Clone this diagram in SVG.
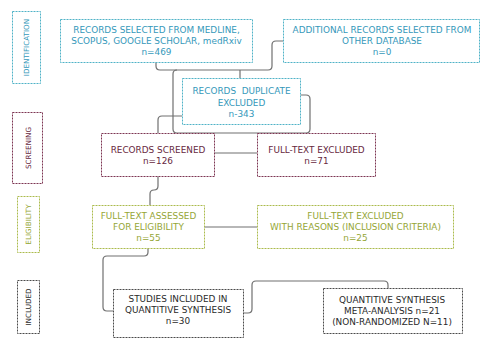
<svg xmlns="http://www.w3.org/2000/svg" width="481" height="338" viewBox="0 0 481 338">
<style>
.bx{fill:#fff;stroke-width:1;stroke-dasharray:2 1}
.t{font-family:"DejaVu Sans","Open Sans",sans-serif;font-size:8.9px;text-anchor:middle}
.lb{font-family:"DejaVu Sans","Open Sans",sans-serif;font-size:7.2px;text-anchor:middle}
.teal{stroke:#4fb2c7}.tealt{fill:#3598ba}
.mar{stroke:#7d3552}.mart{fill:#672840}
.grn{stroke:#abbb4c}.grnt{fill:#95a636}
.blk{stroke:#4a4a4a}.blkt{fill:#2a2a2a}
.c{fill:none;stroke:#707070;stroke-width:1.2}
</style>
<rect width="481" height="338" fill="#fff"/>
<g id="connectors">
<path class="c" d="M156,62 V66 Q156,70 160,70 H268 Q272,70 272,66 V45 Q272,41 276,41 H283"/>
<path class="c" d="M177,70 Q173,70 173,74 V129 Q173,133 177,133 H306 Q310,133 310,129 V99 Q310,95 306,95 H300"/>
<path class="c" d="M240,70 V78"/>
<path class="c" d="M182,116 H162 Q158,116 158,120 V133"/>
<path class="c" d="M214,153 H257"/>
<path class="c" d="M158,176 V186 Q158,190 154,190 Q150,190 150,194 V205"/>
<path class="c" d="M204,227 H257"/>
<path class="c" d="M148,248 V252 Q148,256 144,256 H107 Q103,256 103,260 V307 Q103,311 107,311 H113"/>
<path class="c" d="M243,313 H248 Q252,313 252,309 V285 Q252,281 256,281 H384 Q388,281 388,285 V288"/>
</g>
<g id="label-identification">
<rect class="bx teal" x="12.5" y="11.5" width="28" height="72"/>
<text class="lb tealt" transform="translate(29,47.5) rotate(-90)">IDENTIFICATION</text>
</g>
<g id="label-screening">
<rect class="bx mar" x="12.5" y="112.5" width="30" height="71"/>
<text class="lb mart" transform="translate(30.5,148) rotate(-90)">SCREENING</text>
</g>
<g id="label-eligibility">
<rect class="bx grn" x="17.5" y="196.5" width="22" height="56"/>
<text class="lb grnt" transform="translate(31,224.5) rotate(-90)">ELIGIBILITY</text>
</g>
<g id="label-included">
<rect class="bx blk" x="17.5" y="280.5" width="22" height="53"/>
<text class="lb blkt" transform="translate(31,307) rotate(-90)">INCLUDED</text>
</g>
<g id="records-selected">
<rect class="bx teal" x="60.5" y="19.5" width="192" height="43"/>
<text class="t tealt" x="156.5" y="33">RECORDS SELECTED FROM MEDLINE,</text>
<text class="t tealt" x="156.5" y="44">SCOPUS, GOOGLE SCHOLAR, medRxiv</text>
<text class="t tealt" x="156.5" y="55">n=469</text>
</g>
<g id="additional-records">
<rect class="bx teal" x="283.5" y="19.5" width="196" height="43"/>
<text class="t tealt" x="382" y="33">ADDITIONAL RECORDS SELECTED FROM</text>
<text class="t tealt" x="382" y="44">OTHER DATABASE</text>
<text class="t tealt" x="382" y="55">n=0</text>
</g>
<g id="duplicates-excluded">
<rect class="bx teal" x="182.5" y="78.5" width="118" height="46"/>
<text class="t tealt" x="241.5" y="94" xml:space="preserve">RECORDS  DUPLICATE</text>
<text class="t tealt" x="241.5" y="105.5">EXCLUDED</text>
<text class="t tealt" x="241.5" y="116.5">n-343</text>
</g>
<g id="records-screened">
<rect class="bx mar" x="101.5" y="133.5" width="113" height="43"/>
<text class="t mart" x="158" y="153">RECORDS SCREENED</text>
<text class="t mart" x="158" y="164">n=126</text>
</g>
<g id="fulltext-excluded">
<rect class="bx mar" x="257.5" y="133.5" width="118" height="43"/>
<text class="t mart" x="316.5" y="153">FULL-TEXT EXCLUDED</text>
<text class="t mart" x="316.5" y="164">n=71</text>
</g>
<g id="fulltext-assessed">
<rect class="bx grn" x="92.5" y="205.5" width="112" height="43"/>
<text class="t grnt" x="148.5" y="219">FULL-TEXT ASSESSED</text>
<text class="t grnt" x="148.5" y="230">FOR ELIGIBILITY</text>
<text class="t grnt" x="148.5" y="241">n=55</text>
</g>
<g id="fulltext-excluded-reasons">
<rect class="bx grn" x="257.5" y="205.5" width="196" height="43"/>
<text class="t grnt" x="355.5" y="219">FULL-TEXT EXCLUDED</text>
<text class="t grnt" x="355.5" y="230">WITH REASONS (INCLUSION CRITERIA)</text>
<text class="t grnt" x="355.5" y="241">n=25</text>
</g>
<g id="studies-included">
<rect class="bx blk" x="113.5" y="289.5" width="130" height="48"/>
<text class="t blkt" x="178" y="302">STUDIES INCLUDED IN</text>
<text class="t blkt" x="178" y="313">QUANTITIVE SYNTHESIS</text>
<text class="t blkt" x="178" y="324">n=30</text>
</g>
<g id="meta-analysis">
<rect class="bx blk" x="323.5" y="288.5" width="139" height="45"/>
<text class="t blkt" x="392" y="303">QUANTITIVE SYNTHESIS</text>
<text class="t blkt" x="392" y="314">META-ANALYSIS n=21</text>
<text class="t blkt" x="392" y="325">(NON-RANDOMIZED N=11)</text>
</g>
</svg>
